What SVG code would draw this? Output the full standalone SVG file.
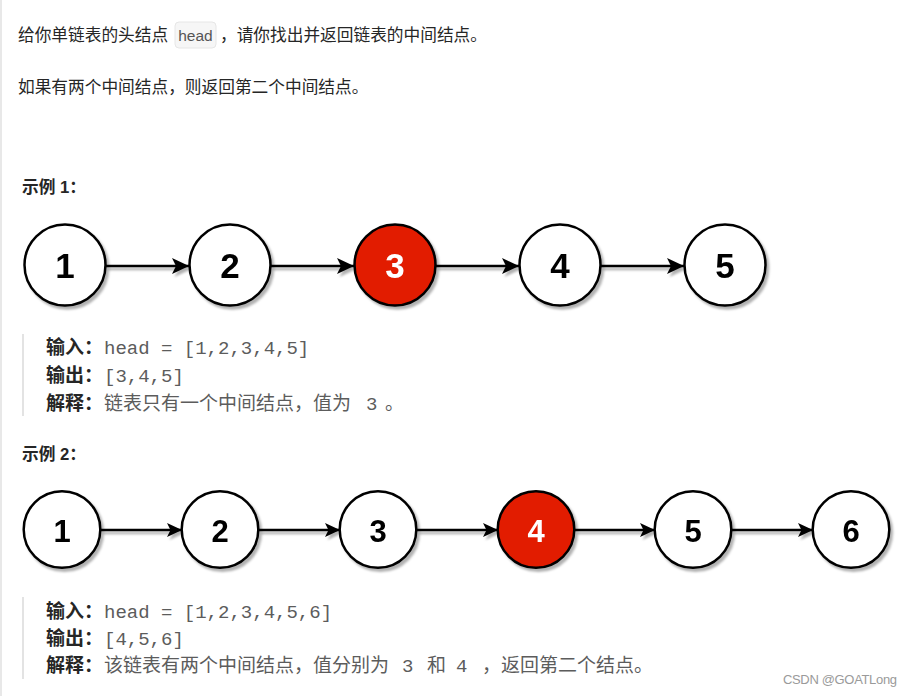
<svg xmlns="http://www.w3.org/2000/svg" width="913" height="696" viewBox="0 0 913 696">
<style>
.t{font-family:"Liberation Sans","Noto Sans CJK SC",sans-serif;fill:#262626;font-size:16.7px}
.b{font-weight:bold}
.lab{font-family:"Liberation Sans","Noto Sans CJK SC",sans-serif;font-size:19px;font-weight:bold;fill:#262626}
.g{font-family:"Liberation Sans","Noto Sans CJK SC",sans-serif;font-size:19px;fill:#5c5c5c}
.m{font-family:"Liberation Mono","DejaVu Sans Mono",monospace;font-size:19px;fill:#5c5c5c}
.node circle{fill:#fff;stroke:#000;stroke-width:2.5}
.node.hl circle{fill:#e21a00}
.n1{font-family:"Liberation Sans",Arial,sans-serif;font-weight:bold;font-size:35px;text-anchor:middle;fill:#000}
.n2{font-family:"Liberation Sans",Arial,sans-serif;font-weight:bold;font-size:31px;text-anchor:middle;fill:#000}
.hl text{fill:#fff}
.edge{stroke:#000;stroke-width:2.5;fill:none}
</style>
<defs>
<filter id="sh" filterUnits="userSpaceOnUse" x="0" y="0" width="913" height="696">
<feDropShadow dx="2.5" dy="3" stdDeviation="1.3" flood-color="#000" flood-opacity="0.3"/>
</filter>
<marker id="ar1" markerUnits="userSpaceOnUse" markerWidth="20" markerHeight="18" refX="17" refY="8" orient="auto">
<path d="M0,0 L17,8 L0,16 L4,8 Z" fill="#000"/>
</marker>
<marker id="ar2" markerUnits="userSpaceOnUse" markerWidth="18" markerHeight="16" refX="15" refY="7" orient="auto">
<path d="M0,0 L15,7 L0,14 L3.5,7 Z" fill="#000"/>
</marker>
</defs>
<rect width="913" height="696" fill="#fff"/>
<rect x="0" y="0" width="2" height="696" fill="#e8e8e8"/>

<!-- intro text -->
<text class="t" x="18" y="41">给你单链表的头结点</text>
<rect x="175" y="22" width="41" height="26" rx="4" fill="#f6f6f6" stroke="#e6e6e6" stroke-width="1"/>
<text x="195.5" y="41" text-anchor="middle" style="font-family:'Liberation Sans',sans-serif;font-size:15.5px;fill:#555">head</text>
<text class="t" x="220" y="41">，请你找出并返回链表的中间结点。</text>
<text class="t" x="18" y="93">如果有两个中间结点，则返回第二个中间结点。</text>

<!-- example 1 -->
<text class="t b" x="22" y="193">示例 1：</text>
<g id="connectors1" filter="url(#sh)">
<line class="edge" x1="106" y1="266" x2="189" y2="266" marker-end="url(#ar1)"/>
<line class="edge" x1="271" y1="266" x2="354" y2="266" marker-end="url(#ar1)"/>
<line class="edge" x1="436" y1="266" x2="519" y2="266" marker-end="url(#ar1)"/>
<line class="edge" x1="601" y1="266" x2="684" y2="266" marker-end="url(#ar1)"/>
</g>
<g id="ex1-n1" class="node" filter="url(#sh)"><circle cx="65" cy="265" r="40.5"/><text class="n1" x="65" y="278">1</text></g>
<g id="ex1-n2" class="node" filter="url(#sh)"><circle cx="230" cy="265" r="40.5"/><text class="n1" x="230" y="278">2</text></g>
<g id="ex1-n3" class="node hl" filter="url(#sh)"><circle cx="395" cy="265" r="40.5"/><text class="n1" x="395" y="278">3</text></g>
<g id="ex1-n4" class="node" filter="url(#sh)"><circle cx="560" cy="265" r="40.5"/><text class="n1" x="560" y="278">4</text></g>
<g id="ex1-n5" class="node" filter="url(#sh)"><circle cx="725" cy="265" r="40.5"/><text class="n1" x="725" y="278">5</text></g>

<rect x="22" y="334" width="2" height="82" fill="#e3e3e3"/>
<text class="lab" x="46" y="354">输入：</text>
<text class="m" x="104" y="354">head = [1,2,3,4,5]</text>
<text class="lab" x="46" y="382">输出：</text>
<text class="m" x="104" y="382">[3,4,5]</text>
<text class="lab" x="46" y="410">解释：</text>
<text class="g" x="104" y="410">链表只有一个中间结点，值为</text>
<text class="m" x="366" y="410">3</text>
<text class="g" x="385" y="410">。</text>

<!-- example 2 -->
<text class="t b" x="22" y="460">示例 2：</text>
<g id="connectors2" filter="url(#sh)">
<line class="edge" x1="101" y1="530" x2="182" y2="530" marker-end="url(#ar2)"/>
<line class="edge" x1="259" y1="530" x2="340" y2="530" marker-end="url(#ar2)"/>
<line class="edge" x1="417" y1="530" x2="498" y2="530" marker-end="url(#ar2)"/>
<line class="edge" x1="575" y1="530" x2="655" y2="530" marker-end="url(#ar2)"/>
<line class="edge" x1="732" y1="530" x2="813" y2="530" marker-end="url(#ar2)"/>
</g>
<g id="ex2-n1" class="node" filter="url(#sh)"><circle cx="62" cy="529.5" r="38.3"/><text class="n2" x="62" y="542">1</text></g>
<g id="ex2-n2" class="node" filter="url(#sh)"><circle cx="220" cy="529.5" r="38.3"/><text class="n2" x="220" y="542">2</text></g>
<g id="ex2-n3" class="node" filter="url(#sh)"><circle cx="378" cy="529.5" r="38.3"/><text class="n2" x="378" y="542">3</text></g>
<g id="ex2-n4" class="node hl" filter="url(#sh)"><circle cx="536" cy="529.5" r="38.3"/><text class="n2" x="536" y="542">4</text></g>
<g id="ex2-n5" class="node" filter="url(#sh)"><circle cx="693" cy="529.5" r="38.3"/><text class="n2" x="693" y="542">5</text></g>
<g id="ex2-n6" class="node" filter="url(#sh)"><circle cx="851" cy="529.5" r="38.3"/><text class="n2" x="851" y="542">6</text></g>

<rect x="22" y="597" width="2" height="82" fill="#e3e3e3"/>
<text class="lab" x="46" y="618">输入：</text>
<text class="m" x="104" y="618">head = [1,2,3,4,5,6]</text>
<text class="lab" x="46" y="645">输出：</text>
<text class="m" x="104" y="645">[4,5,6]</text>
<text class="lab" x="46" y="672">解释：</text>
<text class="g" x="104" y="672">该链表有两个中间结点，值分别为</text>
<text class="m" x="402" y="672">3</text>
<text class="g" x="427" y="672">和</text>
<text class="m" x="456" y="672">4</text>
<text class="g" x="482" y="672">，返回第二个结点。</text>

<text x="783" y="684" textLength="114" style="font-family:'Liberation Sans Narrow','Liberation Sans',sans-serif;font-size:13px;fill:#9a9a9a">CSDN @GOATLong</text>
</svg>
